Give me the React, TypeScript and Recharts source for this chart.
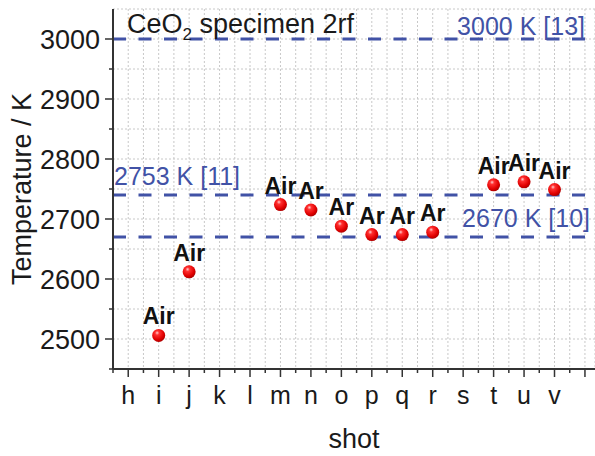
import React from 'react';
import { ScatterChart, Scatter, XAxis, YAxis, CartesianGrid, ReferenceLine, Label } from 'recharts';

const shots = ['h', 'i', 'j', 'k', 'l', 'm', 'n', 'o', 'p', 'q', 'r', 's', 't', 'u', 'v'];
const temperatures = [null, 2506, 2612, null, null, 2724, 2715, 2688, 2674, 2674, 2678, null, 2757, 2762, 2749];
const gases = ['', 'Air', 'Air', '', '', 'Air', 'Ar', 'Ar', 'Ar', 'Ar', 'Ar', '', 'Air', 'Air', 'Air'];
const refValues = [3000, 2740, 2670];
const refTexts = ['3000 K [13]', '2753 K [11]', '2670 K [10]'];
const yMajorTicks = [2500, 2600, 2700, 2800, 2900, 3000];

const FONT = '"Liberation Sans", Arial, Helvetica, sans-serif';
const BLUE = '#4152a6';
const INK = '#1a1a1a';

const data = shots
  .map((s, i) => ({ x: i, y: temperatures[i], gas: gases[i] }))
  .filter((d) => d.y !== null);

const xTicks: number[] = [];
for (let v = -0.5; v <= shots.length + 0.01; v += 0.5) xTicks.push(v);
const yTicks: number[] = [];
for (let v = 2450; v <= 3000; v += 50) yTicks.push(v);

const XTick = (props: any) => {
  const { x, y, payload } = props;
  const v = payload.value;
  const major = Number.isInteger(v);
  const label = major && v >= 0 && v < shots.length ? shots[v] : '';
  return (
    <g>
      <line x1={x} x2={x} y1={y} y2={y + (major ? 8 : 4)} stroke="#333" strokeWidth={1.5} />
      {label && (
        <text x={x} y={y + 35} textAnchor="middle" fontSize={25} fontFamily={FONT} fill={INK}>
          {label}
        </text>
      )}
    </g>
  );
};

const YTick = (props: any) => {
  const { x, y, payload } = props;
  const v = payload.value;
  const major = yMajorTicks.includes(v);
  return (
    <g>
      <line x1={x - (major ? 8 : 4)} x2={x} y1={y} y2={y} stroke="#333" strokeWidth={1.5} />
      {major && (
        <text x={x - 13} y={y} dy="0.36em" textAnchor="end" fontSize={27} fontFamily={FONT} fill={INK}>
          {v}
        </text>
      )}
    </g>
  );
};

const Ball = (props: any) => {
  const { cx, cy, payload } = props;
  if (cx == null || cy == null) return null;
  return (
    <g>
      <text x={cx} y={cy - 11} textAnchor="middle" fontSize={23} fontWeight="bold" fontFamily={FONT} fill="#111">
        {payload.gas}
      </text>
      <circle cx={cx} cy={cy} r={6.5} fill="url(#ballGrad)" />
    </g>
  );
};

const refLabel = (idx: number) => (p: any) => {
  const vb = p.viewBox || {};
  const x0 = vb.x;
  const w = vb.width;
  const y = vb.y;
  if (idx === 0) {
    return (
      <g>
        <text x={x0 + 14} y={y - 6} fontSize={27} fontFamily={FONT} fill={INK}>
          CeO<tspan fontSize={17} dy={7}>2</tspan>
          <tspan dy={-7}> specimen 2rf</tspan>
        </text>
        <text x={x0 + w - 10} y={y - 4} textAnchor="end" fontSize={25} fontFamily={FONT} fill={BLUE}>
          {refTexts[0]}
        </text>
      </g>
    );
  }
  if (idx === 1) {
    return (
      <text x={x0 + 1} y={y - 10} textAnchor="start" fontSize={25} fontFamily={FONT} fill={BLUE}>
        {refTexts[1]}
      </text>
    );
  }
  return (
    <text x={x0 + w - 5} y={y - 10} textAnchor="end" fontSize={25} fontFamily={FONT} fill={BLUE}>
      {refTexts[2]}
    </text>
  );
};

export default function App() {
  return (
    <div style={{ position: 'absolute', left: 0, top: 0, width: 595, height: 456, background: '#fff', overflow: 'hidden' }}>
      <ScatterChart width={595} height={456} margin={{ top: 9, right: 0, bottom: 0, left: 0 }}>
        <defs>
          <radialGradient id="ballGrad" cx="40%" cy="35%" r="65%" fx="38%" fy="30%">
            <stop offset="0%" stopColor="#ffd0d0" />
            <stop offset="25%" stopColor="#ff3030" />
            <stop offset="75%" stopColor="#e00000" />
            <stop offset="100%" stopColor="#b00000" />
          </radialGradient>
        </defs>
        <CartesianGrid stroke="#c8c8c8" strokeDasharray="2 2" strokeWidth={1} />
        <XAxis
          type="number"
          dataKey="x"
          domain={[-0.5, 15.33]}
          ticks={xTicks}
          allowDataOverflow
          interval={0}
          height={87}
          tickLine={false}
          tickSize={0}
          tickMargin={0}
          tick={<XTick />}
          axisLine={{ stroke: '#333', strokeWidth: 2 }}
        >
          <Label
            content={(p: any) => {
              const vb = p.viewBox || {};
              return (
                <text x={vb.x + vb.width / 2} y={448} textAnchor="middle" fontSize={27} fontFamily={FONT} fill={INK}>
                  shot
                </text>
              );
            }}
          />
        </XAxis>
        <YAxis
          type="number"
          dataKey="y"
          domain={[2450, 3050]}
          ticks={yTicks}
          allowDataOverflow
          interval={0}
          width={113}
          tickLine={false}
          tickSize={0}
          tickMargin={0}
          tick={<YTick />}
          axisLine={{ stroke: '#333', strokeWidth: 2 }}
        >
          <Label
            content={(p: any) => {
              const vb = p.viewBox || {};
              const cx = 21;
              const cy = vb.y + vb.height / 2;
              return (
                <text
                  x={cx}
                  y={cy}
                  transform={`rotate(-90 ${cx} ${cy})`}
                  textAnchor="middle"
                  dy="0.36em"
                  fontSize={27}
                  fontFamily={FONT}
                  fill={INK}
                >
                  Temperature / K
                </text>
              );
            }}
          />
        </YAxis>
        {refValues.map((v, i) => (
          <ReferenceLine
            key={v}
            y={v}
            stroke={BLUE}
            strokeWidth={3}
            strokeDasharray="13 12.5"
            ifOverflow="extendDomain"
            label={refLabel(i)}
          />
        ))}
        <Scatter data={data} isAnimationActive={false} shape={<Ball />} />
      </ScatterChart>
    </div>
  );
}
